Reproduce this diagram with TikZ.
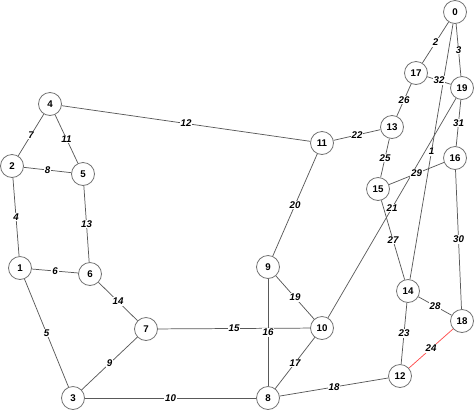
\documentclass[tikz,border=0pt]{standalone}
\usepackage{fontspec}
\setmainfont{Liberation Sans}
\begin{document}
\begin{tikzpicture}[x=0.75pt,y=-0.75pt,
  vtx/.style={circle,draw=black!55,line width=0.6pt,fill=white,minimum size=17.25pt,inner sep=0pt,font=\fontsize{7.3}{8}\selectfont\bfseries},
  lbl/.style={fill=white,inner sep=0.6pt,font=\fontsize{7.3}{8}\selectfont\bfseries\itshape},
  edge/.style={draw=black!65,line width=0.55pt},
  redge/.style={draw=red!70,line width=0.55pt}]
\useasboundingbox (0,0) rectangle (474,411);
\node[vtx] (n0) at (455,12) {0};
\node[vtx] (n17) at (416,73) {17};
\node[vtx] (n19) at (462,88) {19};
\node[vtx] (n13) at (392,127) {13};
\node[vtx] (n16) at (455,158) {16};
\node[vtx] (n11) at (322,143) {11};
\node[vtx] (n15) at (378,189) {15};
\node[vtx] (n4) at (50,104) {4};
\node[vtx] (n2) at (12,166) {2};
\node[vtx] (n5) at (83,174) {5};
\node[vtx] (n1) at (20,268) {1};
\node[vtx] (n6) at (90,274) {6};
\node[vtx] (n7) at (146,329) {7};
\node[vtx] (n9) at (268,267) {9};
\node[vtx] (n10) at (322,328) {10};
\node[vtx] (n14) at (408,291) {14};
\node[vtx] (n18) at (462,321) {18};
\node[vtx] (n12) at (400,376) {12};
\node[vtx] (n3) at (73,398) {3};
\node[vtx] (n8) at (268,398) {8};
\path[edge] (n0) -- node[lbl]{2} (n17);
\path[edge] (n0) -- node[lbl]{3} (n19);
\path[edge] (n0) -- node[lbl]{1} (n14);
\path[edge] (n17) -- node[lbl]{32} (n19);
\path[edge] (n17) -- node[lbl]{26} (n13);
\path[edge] (n19) -- node[lbl]{31} (n16);
\path[edge] (n19) -- node[lbl]{21} (n10);
\path[edge] (n13) -- node[lbl]{22} (n11);
\path[edge] (n13) -- node[lbl]{25} (n15);
\path[edge] (n15) -- node[lbl]{29} (n16);
\path[edge] (n15) -- node[lbl]{27} (n14);
\path[edge] (n16) -- node[lbl]{30} (n18);
\path[edge] (n14) -- node[lbl]{28} (n18);
\path[edge] (n14) -- node[lbl]{23} (n12);
\path[redge] (n18) -- node[lbl]{24} (n12);
\path[edge] (n12) -- node[lbl]{18} (n8);
\path[edge] (n4) -- node[lbl]{12} (n11);
\path[edge] (n11) -- node[lbl]{20} (n9);
\path[edge] (n9) -- node[lbl]{19} (n10);
\path[edge] (n7) -- node[lbl]{15} (n10);
\path[edge] (n9) -- node[lbl]{16} (n8);
\path[edge] (n10) -- node[lbl]{17} (n8);
\path[edge] (n3) -- node[lbl]{10} (n8);
\path[edge] (n3) -- node[lbl]{9} (n7);
\path[edge] (n1) -- node[lbl]{5} (n3);
\path[edge] (n1) -- node[lbl]{6} (n6);
\path[edge] (n2) -- node[lbl]{4} (n1);
\path[edge] (n2) -- node[lbl]{8} (n5);
\path[edge] (n4) -- node[lbl]{7} (n2);
\path[edge] (n4) -- node[lbl]{11} (n5);
\path[edge] (n5) -- node[lbl]{13} (n6);
\path[edge] (n6) -- node[lbl]{14} (n7);
\end{tikzpicture}
\end{document}
